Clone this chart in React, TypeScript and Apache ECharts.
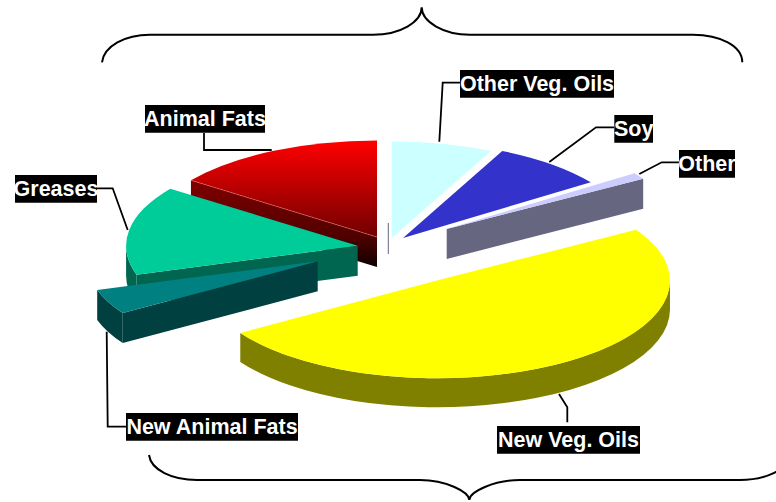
import React, { useEffect, useRef } from "react";
import * as echarts from "echarts";

// Share of each feedstock, clockwise from twelve o'clock (percent).
const categories = ["Other Veg. Oils", "Soy", "Other", "New Veg. Oils", "New Animal Fats", "Greases", "Animal Fats"];
const shares = [7.1, 8.1, 1.1, 49.7, 4.2, 14.8, 15.0];

// Colours of the top faces; the side walls use half of each channel.
const topColors = ["#CCFFFF", "#3333CC", "#CCCCFF", "#FFFF00", "#008080", "#00CC99", "#FF0000"];
const wallColors = ["#666680", "#1A1A66", "#666680", "#808000", "#004040", "#006650", "#800000"];

// Exploded centre of each slice, painter's order, radius factor and wall height.
const centerX = [391.7, 403, 446.7, 437, 317.7, 357.7, 377];
const centerY = [238, 238, 229, 280.5, 261.2, 245.8, 237];
const paintOrder = [0, 1, 3, 6, 5, 4, 2];
const radiusScale = [1, 1, 1, 1.013, 1.004, 1.007, 1];
const wallHeight = [0, 0, 30, 29, 30, 30, 30];

const RX = 230;
const RY = 96.5;

// Label boxes [x, y, w, h], in the order of categories.
const labelBoxes = [
  [460, 70, 154, 27.7],
  [614.3, 115, 38.7, 27.7],
  [679, 150, 56, 27.7],
  [497, 426, 143, 27.7],
  [126, 413, 172, 27.7],
  [15, 175, 82, 27.7],
  [145, 105, 120, 27.7],
];
// Leader lines, in the order of categories.
const leaders = [
  [[439.3, 141.7], [442.7, 82.7], [460, 82.7]],
  [[549.3, 162], [596, 127.3], [614, 127.3]],
  [[639.3, 174], [661.7, 162.3], [679, 162.3]],
  [[559, 394], [567.3, 407.3], [567.3, 422.3]],
  [[106.7, 331.7], [107.7, 426.7], [126, 426.7]],
  [[97, 188.3], [112.7, 188.3], [127.7, 230]],
  [[204, 133], [204, 150], [271.7, 150]],
];

const topBrace =
  "M102 62.3C104 46 125 34.7 150 34.7L373 34.7C400 34.7 421.7 22 421.7 7.3C421.7 22 444 34.7 470 34.7L693 34.7C720 34.7 742.3 46 742.3 62.3";
const bottomBrace =
  "M149 455C151 470 172 480 197 480L420 480C446 480 469.3 492 469.3 500C469.3 492 494 480 520 480L740 480C765 480 788 470 790 455";

echarts.graphic.registerShape("topBrace", echarts.graphic.extendPath(topBrace, {}));
echarts.graphic.registerShape("bottomBrace", echarts.graphic.extendPath(bottomBrace, {}));

const rad = (deg: number) => (deg * Math.PI) / 180;

function renderSlice(params: any, api: any) {
  const i = params.dataIndex;
  const start = api.value(0);
  const end = api.value(1);
  const cx = centerX[i];
  const cy = centerY[i];
  const h = wallHeight[i];
  const rx = RX * radiusScale[i];
  const ry = RY * radiusScale[i];
  const z2 = paintOrder.indexOf(i) * 10;
  const px = (a: number) => cx + rx * Math.sin(rad(a));
  const py = (a: number) => cy - ry * Math.cos(rad(a));
  const arc = (a: number, b: number, dy: number, sweep: number) =>
    `A${rx} ${ry} 0 ${Math.abs(b - a) > 180 ? 1 : 0} ${sweep} ${px(b)} ${py(b) + dy}`;

  const wallFill =
    i === 6
      ? new echarts.graphic.LinearGradient(0, 0, 0, 1, [
          { offset: 0, color: "#800000" },
          { offset: 0.65, color: "#500000" },
          { offset: 1, color: "#100000" },
        ])
      : wallColors[i];
  const topFill =
    i === 6
      ? new echarts.graphic.LinearGradient(0, 0, 0, 1, [
          { offset: 0, color: topColors[i] },
          { offset: 1, color: "#700000" },
        ])
      : topColors[i];

  const children: any[] = [];
  const addPath = (d: string, fill: any, z: number) =>
    children.push({
      type: "path",
      z2: z2 + z,
      shape: { pathData: d },
      style: { fill, stroke: "none" },
    });

  if (h > 0) {
    // The radial walls that face the viewer.
    if (Math.sin(rad(start)) < 0) {
      addPath(
        `M${cx} ${cy}L${px(start)} ${py(start)}L${px(start)} ${py(start) + h}L${cx} ${cy + h}Z`,
        wallFill,
        0
      );
    }
    if (Math.sin(rad(end)) > 0) {
      addPath(`M${cx} ${cy}L${px(end)} ${py(end)}L${px(end)} ${py(end) + h}L${cx} ${cy + h}Z`, wallFill, 0);
    }
    // The front part of the rim.
    const a = Math.max(start, 90);
    const b = Math.min(end, 270);
    if (b > a) {
      addPath(
        `M${px(a)} ${py(a)}${arc(a, b, 0, 1)}L${px(b)} ${py(b) + h}${arc(b, a, h, 0)}Z`,
        wallFill,
        1
      );
    }
  }
  addPath(`M${cx} ${cy}L${px(start)} ${py(start)}${arc(start, end, 0, 1)}Z`, topFill, 2);
  if (i === 6) {
    // Faint highlight where the red top meets its wall.
    children.push({
      type: "line",
      z2: z2 + 3,
      shape: { x1: px(start), y1: py(start), x2: cx, y2: cy },
      style: { stroke: "rgba(255,130,130,0.45)", lineWidth: 1 },
    });
  }
  return { type: "group", children };
}

export default function App() {
  const ref = useRef<HTMLDivElement>(null);
  useEffect(() => {
    document.body.style.margin = "0";
    const chart = echarts.init(ref.current!, undefined, { renderer: "svg" });
    const total = shares.reduce((s, v) => s + v, 0);
    let acc = 0;
    const sliceData = shares.map((v) => {
      const a = (acc / total) * 360;
      acc += v;
      return [a, (acc / total) * 360];
    });

    const labelEls: any[] = [];
    categories.forEach((name, i) => {
      const [x, y, w, h] = labelBoxes[i];
      labelEls.push({
        type: "polyline",
        shape: { points: leaders[i] },
        style: { stroke: "#000", lineWidth: 1.8, fill: "none" },
        z: 5,
      });
      labelEls.push({ type: "rect", shape: { x, y, width: w, height: h }, style: { fill: "#000" }, z: 6 });
      labelEls.push({
        type: "text",
        x: x + w / 2,
        y: y + h / 2,
        style: {
          text: name,
          fill: "#fff",
          font: 'bold 21.5px "Liberation Sans", Arial, sans-serif',
          textAlign: "center",
          textVerticalAlign: "middle",
        },
        z: 7,
      });
    });

    chart.setOption({
      animation: false,
      backgroundColor: "#ffffff",
      graphic: {
        elements: [
          { type: "topBrace", style: { fill: "none", stroke: "#000", lineWidth: 2 }, z: 5 },
          { type: "bottomBrace", style: { fill: "none", stroke: "#000", lineWidth: 2 }, z: 5 },
          // Edge-on wall of the pale slice.
          { type: "line", shape: { x1: 388.3, y1: 223, x2: 388.3, y2: 254 }, style: { stroke: "#666680", lineWidth: 1 }, z: 5 },
          ...labelEls,
        ],
      },
      series: [
        {
          type: "custom",
          coordinateSystem: "none",
          renderItem: renderSlice,
          data: sliceData,
          silent: true,
        },
      ],
    });
    return () => chart.dispose();
  }, []);
  return <div ref={ref} style={{ width: 776, height: 502 }} />;
}
